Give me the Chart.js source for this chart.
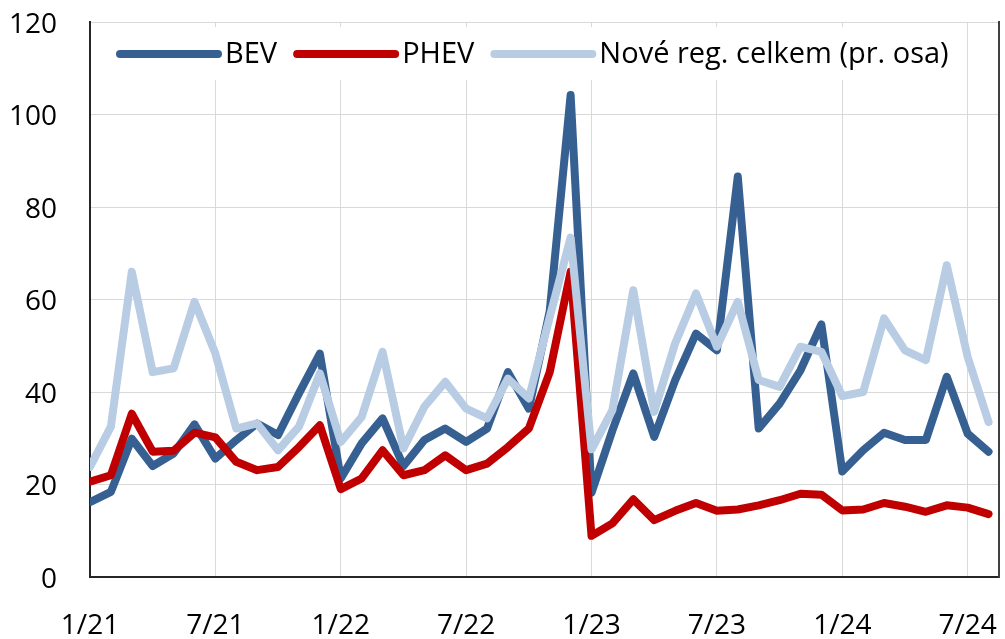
<!DOCTYPE html>
<html>
<head>
<meta charset="utf-8">
<script src="https://cdn.jsdelivr.net/npm/chart.js@4/dist/chart.umd.min.js"></script>
<style>
  html, body { margin: 0; padding: 0; background: #fff; }
  #wrap { width: 1005px; height: 639px; position: relative; }
</style>
</head>
<body>
<div id="wrap"><canvas id="line-chart"></canvas></div>
<script>
// months 1/21 .. 8/24
var months = [
    '1/21','2/21','3/21','4/21','5/21','6/21','7/21','8/21','9/21','10/21','11/21','12/21',
    '1/22','2/22','3/22','4/22','5/22','6/22','7/22','8/22','9/22','10/22','11/22','12/22',
    '1/23','2/23','3/23','4/23','5/23','6/23','7/23','8/23','9/23','10/23','11/23','12/23',
    '1/24','2/24','3/24','4/24','5/24','6/24','7/24','8/24'
];
var tickLabels = ['1/21','7/21','1/22','7/22','1/23','7/23','1/24','7/24'];
var yTicks = [0, 20, 40, 60, 80, 100, 120];

var bev = [16.2,18.4,29.9,24.0,26.7,33.0,25.6,29.6,33.2,30.7,39.7,48.3,
           21.3,28.9,34.3,24.0,29.6,32.1,29.2,32.1,44.3,36.4,57.5,104.2,
           18.2,31.7,44.0,30.3,42.5,52.6,49.0,86.6,32.1,37.5,44.7,54.6,
           22.8,27.4,31.2,29.6,29.6,43.3,31.0,27.1];
var phev = [20.6,22.0,35.3,27.1,27.3,31.2,30.2,24.9,23.1,23.8,28.1,32.8,
            19.0,21.3,27.4,22.0,23.1,26.3,23.1,24.5,28.1,32.1,44.3,66.0,
            8.9,11.6,16.8,12.3,14.3,16.0,14.3,14.6,15.5,16.6,18.0,17.8,
            14.4,14.6,16.0,15.2,14.1,15.5,15.0,13.6];
var noveReg = [23.8,32.5,66.0,44.3,45.1,59.5,48.3,32.1,33.2,27.4,32.5,44.0,
               29.2,34.6,48.7,27.8,36.8,42.2,36.4,34.3,42.9,38.6,56.2,73.4,
               27.6,36.1,62.0,35.7,50.5,61.3,49.8,59.5,42.6,41.1,49.8,48.7,
               39.1,40.0,55.9,49.0,46.9,67.4,47.6,33.5];

function toPoints(arr) {
    return arr.map(function (v, i) { return { x: i, y: v }; });
}

function noPad(scale) {
    scale.paddingTop = 0;
    scale.paddingBottom = 0;
    scale.paddingLeft = 0;
    scale.paddingRight = 0;
}

Chart.defaults.font.family = "'Open Sans'";
Chart.defaults.font.size = 28;
Chart.defaults.color = '#000';

// legend drawn inside the plot area, over a white box
var innerLegend = {
    id: 'innerLegend',
    beforeDatasetsDraw: function (chart) {
        var ctx = chart.ctx;
        ctx.save();
        ctx.fillStyle = '#fff';
        ctx.fillRect(100, 27, 860, 53);
        ctx.font = "29px 'Open Sans'";
        ctx.textBaseline = 'middle';
        ctx.fillStyle = '#000';
        var x = 120, y = 54;
        chart.data.datasets.forEach(function (ds) {
            ctx.strokeStyle = ds.borderColor;
            ctx.lineWidth = 8;
            ctx.lineCap = 'round';
            ctx.beginPath();
            ctx.moveTo(x, y);
            ctx.lineTo(x + 98, y);
            ctx.stroke();
            x += 105;
            ctx.fillText(ds.label, x, y + 1);
            x += ctx.measureText(ds.label).width + 20;
        });
        ctx.restore();
    }
};

var myChart = document.getElementById('line-chart');

var myLineChart = new Chart(myChart, {
    type: 'line',
    data: {
        datasets: [
            {
                label: 'BEV',
                data: toPoints(bev),
                borderColor: '#366092',
                borderWidth: 8,
                pointRadius: 0,
                borderCapStyle: 'round',
                borderJoinStyle: 'round',
                tension: 0,
                order: 3
            },
            {
                label: 'PHEV',
                data: toPoints(phev),
                borderColor: '#C00000',
                borderWidth: 8,
                pointRadius: 0,
                borderCapStyle: 'round',
                borderJoinStyle: 'round',
                tension: 0,
                order: 2
            },
            {
                label: 'Nové reg. celkem (pr. osa)',
                data: toPoints(noveReg),
                borderColor: '#B8CCE4',
                borderWidth: 8,
                pointRadius: 0,
                borderCapStyle: 'round',
                borderJoinStyle: 'round',
                tension: 0,
                order: 1
            }
        ]
    },
    options: {
        responsive: true,
        maintainAspectRatio: false,
        animation: false,
        layout: { padding: { top: 22, right: 0, bottom: 0, left: 0 } },
        plugins: {
            legend: { display: false },
            tooltip: { enabled: false }
        },
        scales: {
            x: {
                type: 'linear',
                min: 0,
                max: 43.5,
                afterBuildTicks: function (scale) {
                    scale.ticks = tickLabels.map(function (t) { return { value: months.indexOf(t) }; });
                },
                afterFit: function (scale) { scale.height = 62; noPad(scale); },
                ticks: {
                    padding: 32,
                    maxRotation: 0,
                    autoSkip: false,
                    callback: function (v) { return months[v]; }
                },
                grid: { color: '#d9d9d9', lineWidth: 1, drawTicks: false },
                border: { color: '#262626', width: 2 }
            },
            y: {
                min: 0,
                max: 120,
                afterBuildTicks: function (scale) {
                    scale.ticks = yTicks.map(function (v) { return { value: v }; });
                },
                afterFit: function (scale) { scale.width = 90; noPad(scale); },
                ticks: { padding: 33, labelOffset: 3 },
                grid: { color: '#d9d9d9', lineWidth: 1, drawTicks: false },
                border: { color: '#262626', width: 2 }
            },
            y2: {
                position: 'right',
                display: true,
                min: 0,
                max: 120,
                afterFit: function (scale) { scale.width = 6; noPad(scale); },
                ticks: { display: false },
                grid: { drawOnChartArea: false, drawTicks: false },
                border: { display: true, color: '#404040', width: 2 }
            }
        }
    },
    plugins: [innerLegend]
});
</script>
</body>
</html>
